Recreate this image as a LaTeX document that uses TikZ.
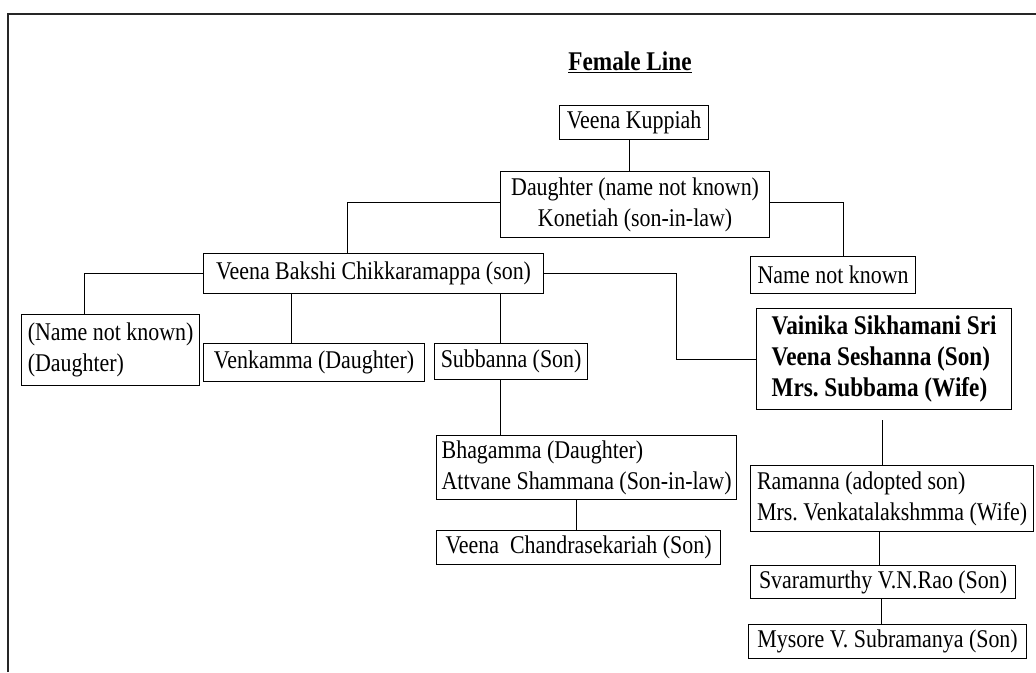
\documentclass[tikz,border=0pt]{standalone}
\usepackage{fontspec}
\setmainfont{Liberation Serif}[FakeStretch=0.86]
\usetikzlibrary{positioning}

\begin{document}
\frenchspacing
\begin{tikzpicture}[
  x=1pt, y=-1pt,
  person/.style={draw, line width=1.2pt, anchor=north west, inner xsep=4pt, inner ysep=2pt,
    font=\fontsize{25.5}{31}\selectfont},
  tie/.style={line width=1.2pt},
]
\useasboundingbox (0,0) rectangle (1036,672);

% frame (cut off at right and bottom)
\draw[line width=1.6pt, black!85] (8,672) -- (8,14) -- (1036,14);

% title
\node[font=\fontsize{27}{30}\selectfont\bfseries] (title) at (630,62) {\underline{Female Line}};

% ============ generations ============
\node[person, minimum width=149pt, minimum height=34pt] (kuppiah) at (559,105) {Veena Kuppiah};
\node[person, minimum width=269pt, minimum height=66pt, align=center] (daughter) at (500,171)
  {Daughter (name not known)\\Konetiah (son-in-law)};

\node[person, minimum width=340pt, minimum height=40pt] (chikka) at (203,253) {Veena Bakshi Chikkaramappa (son)};
\node[person, minimum width=165pt, minimum height=37pt] (unknown) at (750,256) {Name not known};

\node[person, minimum width=178pt, minimum height=71pt, align=left] (daughterA) at (21,314)
  {(Name not known)\\(Daughter)};
\node[person, minimum width=221pt, minimum height=38pt] (venkamma) at (203,343) {Venkamma (Daughter)};
\node[person, minimum width=153pt, minimum height=36pt] (subbanna) at (434,343) {Subbanna (Son)};
\node[person, minimum width=255pt, minimum height=101pt, align=left,
  font=\fontsize{27}{31}\selectfont\bfseries] (seshanna) at (756,308)
  {Vainika Sikhamani Sri\\Veena Seshanna (Son)\\Mrs. Subbama (Wife)};

\node[person, minimum width=300pt, minimum height=64pt, align=left] (bhagamma) at (436,435)
  {Bhagamma (Daughter)\\Attvane Shammana (Son-in-law)};
\node[person, minimum width=284pt, minimum height=34pt] (chandra) at (436,530) {Veena\ \ Chandrasekariah (Son)};

\node[person, minimum width=283pt, minimum height=66pt, align=left] (ramanna) at (750,465)
  {Ramanna (adopted son)\\Mrs. Venkatalakshmma (Wife)};
\node[person, minimum width=265pt, minimum height=33pt] (svara) at (750,565) {Svaramurthy V.N.Rao (Son)};
\node[person, minimum width=278pt, minimum height=34pt] (mysore) at (748,624) {Mysore V. Subramanya (Son)};

% ============ connectors ============
\draw[tie] ([xshift=-5pt]kuppiah.south) -- ([xshift=-5pt]kuppiah.south |- daughter.north);
\draw[tie] ([yshift=2pt]daughter.west) -| ([xshift=-26pt]chikka.north);
\draw[tie] ([yshift=2pt]daughter.east) -| ([xshift=10pt]unknown.north);

\draw[tie] (chikka.west) -| ([xshift=-26pt]daughterA.north);
\draw[tie] ([xshift=-23pt]venkamma.north) -- ([xshift=-23pt]venkamma.north |- chikka.south);
\draw[tie] ([xshift=-11pt]subbanna.north) -- ([xshift=-11pt]subbanna.north |- chikka.south);
\draw[tie] (chikka.east) -- ++(132,0) |- (seshanna.west);

\draw[tie] ([xshift=-11pt]subbanna.south) -- ([xshift=-11pt]subbanna.south |- bhagamma.north);
\draw[tie] ([xshift=-2pt]chandra.north) -- ([xshift=-2pt]chandra.north |- bhagamma.south);

\draw[tie, shorten <=10pt] ([xshift=-10pt]ramanna.north |- seshanna.south) -- ([xshift=-10pt]ramanna.north);
\draw[tie] ([xshift=-4pt]svara.north) -- ([xshift=-4pt]svara.north |- ramanna.south);
\draw[tie] ([xshift=-6pt]mysore.north) -- ([xshift=-6pt]mysore.north |- svara.south);

\end{tikzpicture}
\end{document}
